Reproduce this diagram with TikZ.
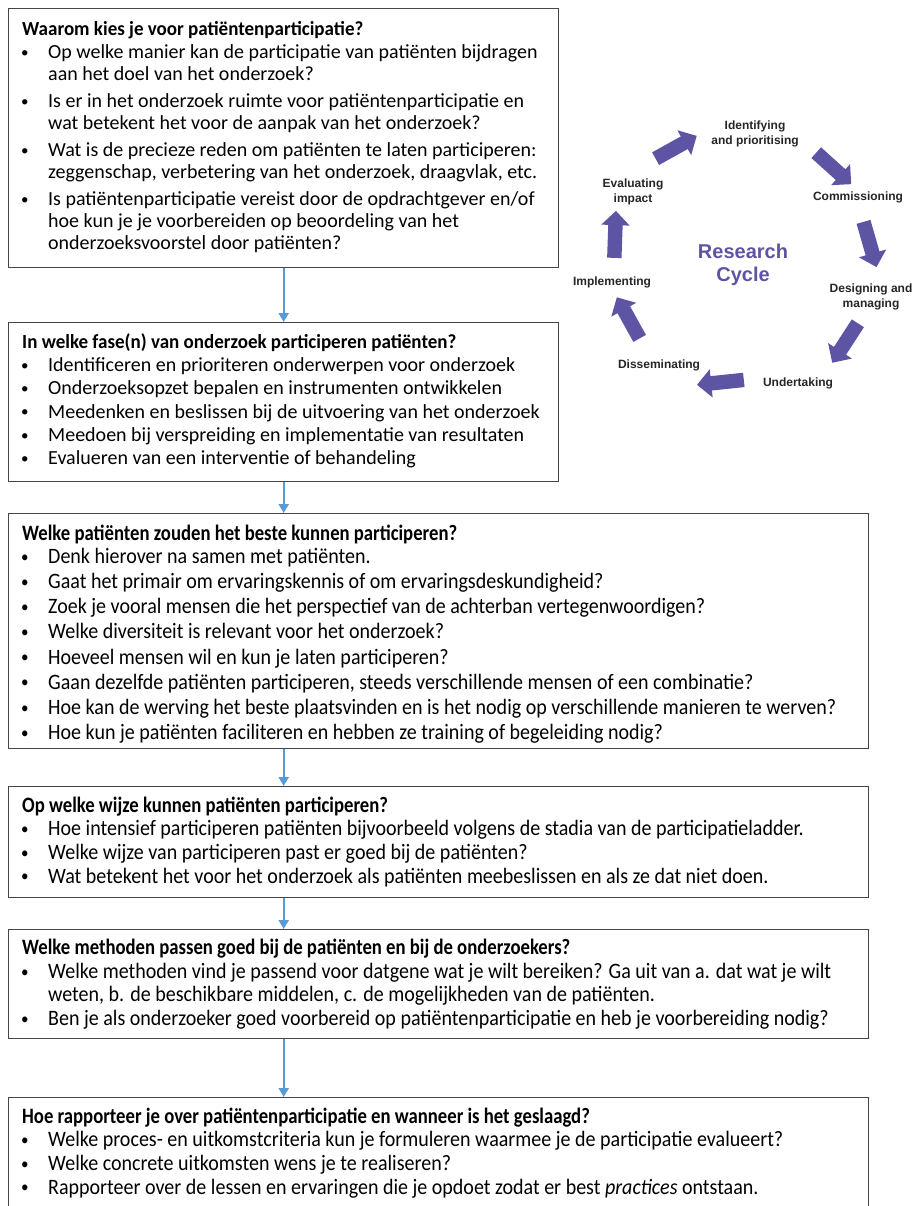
\documentclass[tikz,border=0pt]{standalone}
\usepackage{fontspec}
\setmainfont{Carlito}
\newfontfamily\labfont{Liberation Sans}
\newfontfamily\condfont[FakeStretch=0.91]{Carlito}
\newfontfamily\titlefont[FakeStretch=0.95]{Carlito}
\newfontfamily\condtitle[FakeStretch=0.85]{Carlito}
\usetikzlibrary{shapes.arrows,arrows.meta}
\definecolor{boxline}{HTML}{454545}
\definecolor{flow}{HTML}{5B9BD5}
\definecolor{cyc}{HTML}{5E54A4}
\definecolor{labc}{HTML}{262626}
\newcommand\bul{\makebox[26pt][l]{\hspace*{-1pt}\raisebox{1.2pt}{\scalebox{0.75}{\textbullet}}}}
\newcommand\ind{\hspace*{26pt}}
\newcommand\wide{\fontsize{20}{22}\selectfont}
\newcommand\narrowA{\condfont\fontsize{22}{25.1}\selectfont}
\newcommand\narrowB{\condfont\fontsize{22}{23.7}\selectfont}
\newcommand\ttlA[1]{{\titlefont\bfseries #1}}
\newcommand\ttlB[1]{{\condtitle\bfseries #1}}
\tikzset{
  qbox/.style={draw=boxline, line width=1.4pt, rectangle, inner sep=0pt, anchor=north west},
  qtext/.style={anchor=base west, inner sep=0pt},
  flowarrow/.style={draw=flow, line width=2.4pt, -{Triangle[width=10pt,length=9pt]}},
  cycarrow/.style={single arrow, fill=cyc, draw=none, inner xsep=0pt, inner ysep=7pt,
     minimum height=47pt, single arrow head extend=7pt, single arrow head indent=0pt},
  cyclab/.style={align=center, inner sep=0pt, text=labc,
     font=\labfont\bfseries\fontsize{12}{14.5}\selectfont},
}
\begin{document}
\begin{tikzpicture}[x=1pt,y=-1pt]
\useasboundingbox (0,0) rectangle (913,1206);
\fill[white] (0,0) rectangle (913,1206);
\clip (0,0) rectangle (913,1206);

% boxes
\node[qbox, minimum width=550pt, minimum height=259pt] (b1) at (8,8) {};
\node[qbox, minimum width=550pt, minimum height=159pt] (b2) at (8,322) {};
\node[qbox, minimum width=860pt, minimum height=235pt] (b3) at (8,513) {};
\node[qbox, minimum width=860pt, minimum height=111pt] (b4) at (8,786) {};
\node[qbox, minimum width=860pt, minimum height=109pt] (b5) at (8,929) {};
\node[qbox, minimum width=860pt, minimum height=140pt] (b6) at (8,1097) {};

% texts
\node[qtext] (t1) at (22,35.5) {\begin{minipage}[t]{530pt}\wide\raggedright
\ttlA{Waarom kies je voor patiëntenparticipatie?}\\[1pt]
\bul Op welke manier kan de participatie van patiënten bijdragen\\
\ind aan het doel van het onderzoek?\\[5pt]
\bul Is er in het onderzoek ruimte voor patiëntenparticipatie en\\
\ind wat betekent het voor de aanpak van het onderzoek?\\[5pt]
\bul Wat is de precieze reden om patiënten te laten participeren:\\
\ind zeggenschap, verbetering van het onderzoek, draagvlak, etc.\\[5pt]
\bul Is patiëntenparticipatie vereist door de opdrachtgever en/of\\
\ind hoe kun je je voorbereiden op beoordeling van het\\
\ind onderzoeksvoorstel door patiënten?
\end{minipage}};

\node[qtext] (t2) at (22,348.5) {\begin{minipage}[t]{530pt}\fontsize{20}{23.2}\selectfont\raggedright
\ttlA{In welke fase(n) van onderzoek participeren patiënten?}\\
\bul Identificeren en prioriteren onderwerpen voor onderzoek\\
\bul Onderzoeksopzet bepalen en instrumenten ontwikkelen\\
\bul Meedenken en beslissen bij de uitvoering van het onderzoek\\
\bul Meedoen bij verspreiding en implementatie van resultaten\\
\bul Evalueren van een interventie of behandeling
\end{minipage}};

\node[qtext] (t3) at (22,540.5) {\begin{minipage}[t]{840pt}\narrowA\raggedright
\ttlB{Welke patiënten zouden het beste kunnen participeren?}\\[-2pt]
\bul Denk hierover na samen met patiënten.\\
\bul Gaat het primair om ervaringskennis of om ervaringsdeskundigheid?\\
\bul Zoek je vooral mensen die het perspectief van de achterban vertegenwoordigen?\\
\bul Welke diversiteit is relevant voor het onderzoek?\\
\bul Hoeveel mensen wil en kun je laten participeren?\\
\bul Gaan dezelfde patiënten participeren, steeds verschillende mensen of een combinatie?\\
\bul Hoe kan de werving het beste plaatsvinden en is het nodig op verschillende manieren te werven?\\
\bul Hoe kun je patiënten faciliteren en hebben ze training of begeleiding nodig?
\end{minipage}};

\node[qtext] (t4) at (22,812) {\begin{minipage}[t]{840pt}\narrowB\raggedright
\ttlB{Op welke wijze kunnen patiënten participeren?}\\
\bul Hoe intensief participeren patiënten bijvoorbeeld volgens de stadia van de participatieladder.\\
\bul Welke wijze van participeren past er goed bij de patiënten?\\
\bul Wat betekent het voor het onderzoek als patiënten meebeslissen en als ze dat niet doen.
\end{minipage}};

\node[qtext] (t5) at (22,954.5) {\begin{minipage}[t]{840pt}\narrowB\raggedright
\ttlB{Welke methoden passen goed bij de patiënten en bij de onderzoekers?}\\
\bul Welke methoden vind je passend voor datgene wat je wilt bereiken? Ga uit van a. dat wat je wilt\\
\ind weten, b. de beschikbare middelen, c. de mogelijkheden van de patiënten.\\
\bul Ben je als onderzoeker goed voorbereid op patiëntenparticipatie en heb je voorbereiding nodig?
\end{minipage}};

\node[qtext] (t6) at (22,1123) {\begin{minipage}[t]{840pt}\narrowB\raggedright
\ttlB{Hoe rapporteer je over patiëntenparticipatie en wanneer is het geslaagd?}\\
\bul Welke proces- en uitkomstcriteria kun je formuleren waarmee je de participatie evalueert?\\
\bul Welke concrete uitkomsten wens je te realiseren?\\
\bul Rapporteer over de lessen en ervaringen die je opdoet zodat er best \textit{practices} ontstaan.
\end{minipage}};

% flow arrows
\draw[flowarrow] (b1.south) -- (b2.north);
\draw[flowarrow] (b2.south) -- (b2.south |- b3.north);
\draw[flowarrow] (b3.south -| b2.south) -- (b4.north -| b2.south);
\draw[flowarrow] (b4.south -| b2.south) -- (b5.north -| b2.south);
\draw[flowarrow] (b5.south -| b2.south) -- (b6.north -| b2.south);

% research cycle
\node[align=center, inner sep=0pt, text=cyc, font=\labfont\bfseries\fontsize{20}{23}\selectfont] (rc) at (743,265) {Research\\Cycle};
\node[cyclab] (l1) at (755,134) {Identifying\\and prioritising};
\node[cyclab] (l2) at (858,197) {Commissioning};
\node[cyclab] (l3) at (871,297) {Designing and\\managing};
\node[cyclab] (l4) at (798,383) {Undertaking};
\node[cyclab] (l5) at (659,365) {Disseminating};
\node[cyclab] (l6) at (612,282) {Implementing};
\node[cyclab] (l7) at (633,192) {Evaluating\\impact};

\node[cycarrow, rotate=29] (a1) at (673,149) {};
\node[cycarrow, rotate=-42] (a2) at (831,166) {};
\node[cycarrow, rotate=-74] (a3) at (869,241) {};
\node[cycarrow, rotate=-123] (a4) at (847,340) {};
\node[cycarrow, rotate=186] (a5) at (724,382) {};
\node[cycarrow, rotate=119] (a6) at (630,321) {};
\node[cycarrow, rotate=88] (a7) at (615,238) {};
\end{tikzpicture}
\end{document}
